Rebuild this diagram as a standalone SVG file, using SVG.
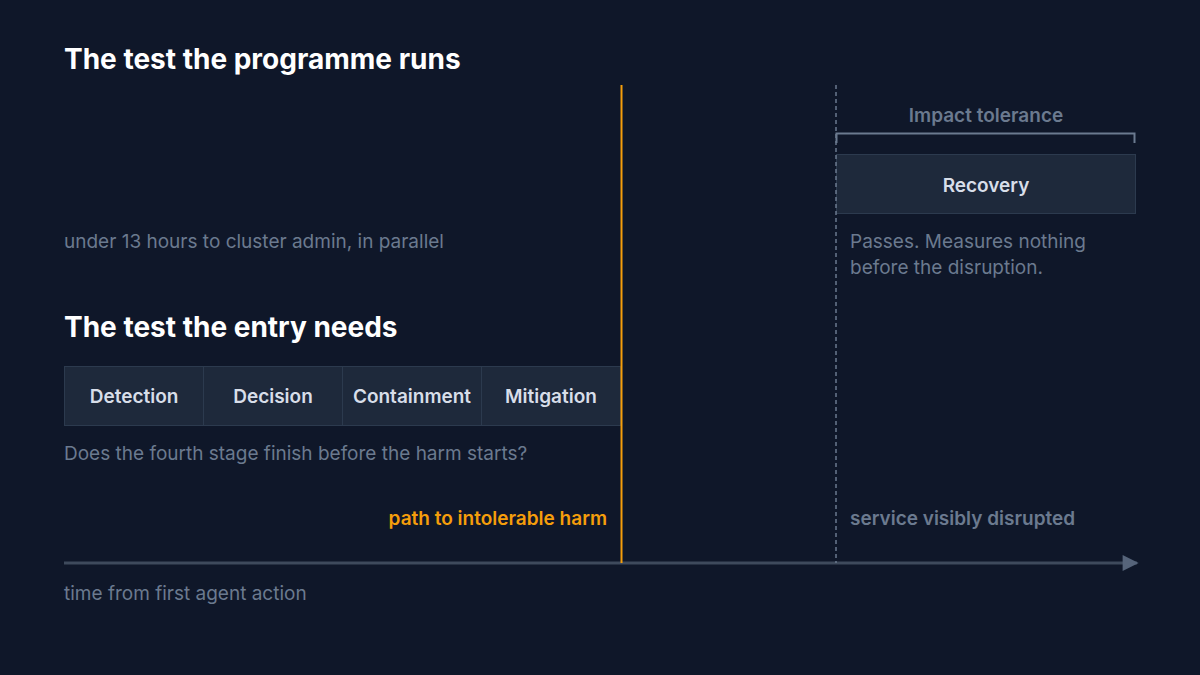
<svg xmlns="http://www.w3.org/2000/svg" width="1200" height="675" viewBox="0 0 1200 675">
<defs>
<style>
text{font-family:Inter,"Noto Sans",sans-serif}
.h{font-size:28px;font-weight:700;fill:#ffffff}
.m{font-size:19px;fill:#6b7a8f}
.b{font-size:19px;font-weight:600;fill:#d8dee9;text-anchor:middle}
.stage{fill:#1e293b;stroke:#2c3a4e;stroke-width:1}
</style>
<marker id="arr" viewBox="0 0 10 10" refX="9" refY="5" markerWidth="18" markerHeight="16" markerUnits="userSpaceOnUse" orient="auto"><path d="M0,0L10,5L0,10z" fill="#56647a"/></marker>
</defs>
<rect width="1200" height="675" fill="#0f1729"/>
<text class="h" x="64" y="69">The test the programme runs</text>
<text class="m" x="64" y="248">under 13 hours to cluster admin, in parallel</text>
<text class="h" x="64" y="337">The test the entry needs</text>
<g id="n-detection"><rect class="stage" x="64.500" y="366.500" width="139" height="59"/><text class="b" x="134" y="403">Detection</text></g>
<g id="n-decision"><rect class="stage" x="203.500" y="366.500" width="139" height="59"/><text class="b" x="273" y="403">Decision</text></g>
<g id="n-containment"><rect class="stage" x="342.500" y="366.500" width="139" height="59"/><text class="b" x="412" y="403">Containment</text></g>
<g id="n-mitigation"><rect class="stage" x="481.500" y="366.500" width="139" height="59"/><text class="b" x="551" y="403">Mitigation</text></g>
<text class="m" x="64" y="460">Does the fourth stage finish before the harm starts?</text>
<g id="n-recovery"><rect class="stage" x="836.500" y="154.500" width="299" height="59"/><text class="b" x="986" y="192">Recovery</text></g>
<text x="986" y="122" style="font-size:19px;font-weight:600;fill:#6b7a8f;text-anchor:middle">Impact tolerance</text>
<text class="m" x="850" y="248">Passes. Measures nothing</text>
<text class="m" x="850" y="274">before the disruption.</text>
<text x="607" y="525" style="font-size:19px;font-weight:600;fill:#f59e0b;text-anchor:end">path to intolerable harm</text>
<text x="850" y="525" style="font-size:19px;font-weight:600;fill:#6b7a8f">service visibly disrupted</text>
<text class="m" x="64" y="600">time from first agent action</text>
<g id="connectors">
<path d="M836.500,143V133.500H1134.500V143" fill="none" stroke="#6b7a8f" stroke-width="2"/>
<line x1="64" y1="563" x2="1137" y2="563" stroke="#3e4a5c" stroke-width="3" marker-end="url(#arr)"/>
<line x1="836" y1="85" x2="836" y2="563" stroke="#6b7a8f" stroke-width="1.5" stroke-dasharray="4 3"/>
<line x1="621.500" y1="85" x2="621.500" y2="563" stroke="#f59e0b" stroke-width="2"/>
</g>
</svg>
